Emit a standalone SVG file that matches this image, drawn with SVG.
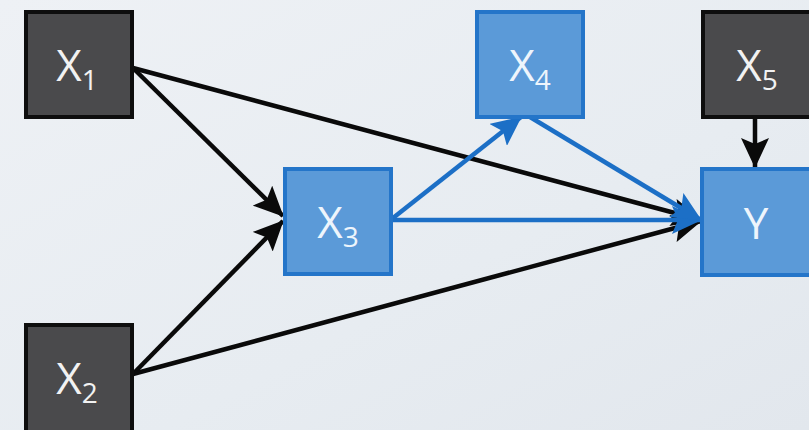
<svg xmlns="http://www.w3.org/2000/svg" width="809" height="430" viewBox="0 0 809 430">
  <defs>
    <linearGradient id="bg" x1="0" y1="0" x2="1" y2="1">
      <stop offset="0" stop-color="#eef1f5"/>
      <stop offset="0.6" stop-color="#e7ecf1"/>
      <stop offset="1" stop-color="#e2e7ed"/>
    </linearGradient>
    <marker id="headBlack" markerUnits="userSpaceOnUse" markerWidth="30" markerHeight="28" refX="29" refY="14" orient="auto">
      <path d="M0,0 L30,14 L0,28 L6,14 z" fill="#0a0a0a"/>
    </marker>
    <marker id="headBlue" markerUnits="userSpaceOnUse" markerWidth="30" markerHeight="28" refX="29" refY="14" orient="auto">
      <path d="M0,0 L30,14 L0,28 L6,14 z" fill="#1c6fc6"/>
    </marker>
  </defs>
  <style>
    .dark rect { fill: #4a4a4c; stroke: #0e0e0e; stroke-width: 4; }
    .blue rect { fill: #5b9ad8; stroke: #2475c9; stroke-width: 4; }
    .lbl { font-family: "Open Sans", "Liberation Sans", sans-serif; font-size: 44px; text-anchor: middle; }
    .dark .lbl { fill: #f2f2f2; }
    .blue .lbl { fill: #eef5fc; }
    .sub { font-size: 28px; }
    .k { stroke: #0a0a0a; stroke-width: 4.5; fill: none; marker-end: url(#headBlack); }
    .b { stroke: #1c6fc6; stroke-width: 4.5; fill: none; marker-end: url(#headBlue); }
  </style>

  <rect width="809" height="430" fill="url(#bg)"/>

  <!-- connectors -->
  <g id="edges">
    <line class="k" x1="133" y1="68" x2="283" y2="216"/>
    <line class="k" x1="133" y1="68" x2="701" y2="220"/>
    <line class="k" x1="133" y1="374" x2="283" y2="221"/>
    <line class="k" x1="133" y1="374" x2="701" y2="221"/>
    <line class="b" x1="393" y1="218" x2="521" y2="117"/>
    <line class="b" x1="393" y1="220" x2="701" y2="220"/>
    <line class="b" x1="530" y1="117" x2="701" y2="220"/>
    <line class="k" x1="755" y1="118" x2="755" y2="167"/>
  </g>

  <!-- nodes -->
  <g id="x1" class="dark">
    <rect x="26" y="12" width="106" height="105"/>
    <text class="lbl" x="77" y="81">X<tspan class="sub" dy="9">1</tspan></text>
  </g>
  <g id="x2" class="dark">
    <rect x="26" y="325" width="106" height="110"/>
    <text class="lbl" x="77" y="394">X<tspan class="sub" dy="9">2</tspan></text>
  </g>
  <g id="x3" class="blue">
    <rect x="285" y="169" width="106" height="105"/>
    <text class="lbl" x="338" y="238">X<tspan class="sub" dy="9">3</tspan></text>
  </g>
  <g id="x4" class="blue">
    <rect x="477" y="12" width="106" height="105"/>
    <text class="lbl" x="530" y="81">X<tspan class="sub" dy="9">4</tspan></text>
  </g>
  <g id="x5" class="dark">
    <rect x="703" y="12" width="108" height="105"/>
    <text class="lbl" x="757" y="81">X<tspan class="sub" dy="9">5</tspan></text>
  </g>
  <g id="y" class="blue">
    <rect x="702" y="169" width="109" height="106"/>
    <text class="lbl" x="756" y="239">Y</text>
  </g>
</svg>
